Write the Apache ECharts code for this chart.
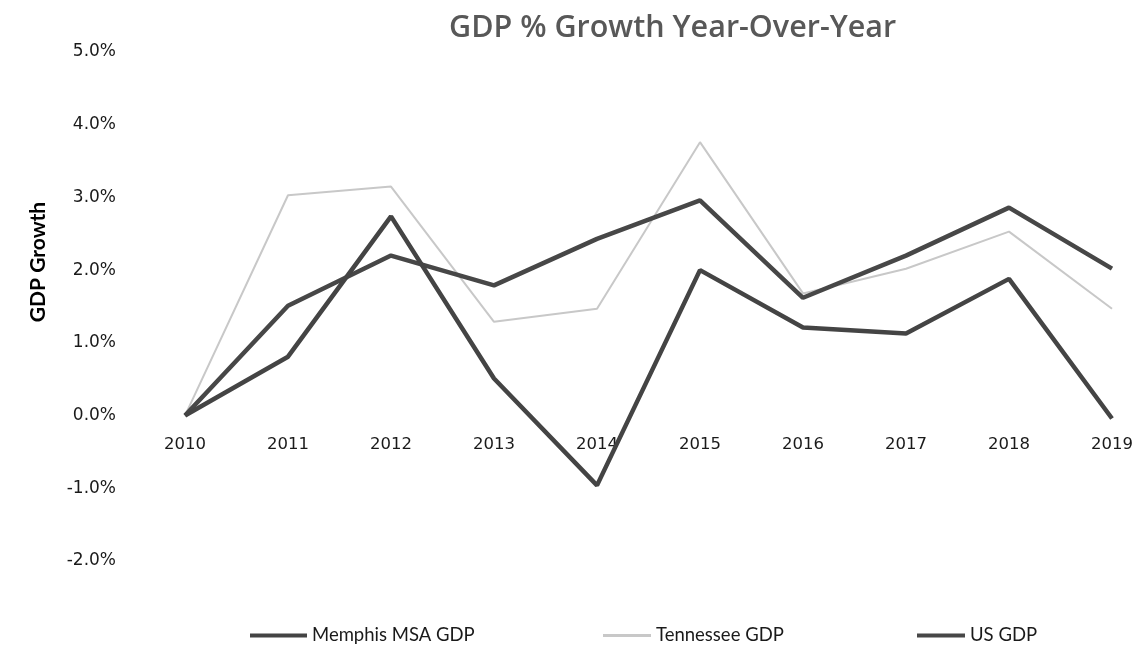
<!DOCTYPE html>
<html>
<head>
<meta charset="utf-8">
<title>GDP % Growth Year-Over-Year</title>
<script src="https://cdn.jsdelivr.net/npm/echarts@6/dist/echarts.min.js"></script>
<style>
  html, body { margin: 0; padding: 0; background: #ffffff; }
  #chart { width: 1136px; height: 648px; }
</style>
</head>
<body>
<div id="chart"></div>
<script>
// Year-over-year GDP growth, percent
const years = ['2010', '2011', '2012', '2013', '2014', '2015', '2016', '2017', '2018', '2019'];
const memphisMsaGdp = [0.0, 0.81, 2.74, 0.51, -0.96, 2.0, 1.21, 1.13, 1.88, -0.04];
const tennesseeGdp  = [0.0, 3.03, 3.15, 1.29, 1.47, 3.76, 1.68, 2.02, 2.53, 1.47];
const usGdp         = [0.0, 1.51, 2.2, 1.79, 2.43, 2.96, 1.62, 2.2, 2.86, 2.02];
const yTicks = { min: -2, max: 5, step: 1 };

const darkLine = '#474747';
const lightLine = '#c8c8c8';

const W = 1136, H = 648;
const grid = { left: 185, right: 24, top: 52, bottom: 87 };
// the category labels sit just below the 0% line, so shift the x axis up from the plot bottom
const plotHeight = H - grid.top - grid.bottom;
const zeroLift = plotHeight * (0 - yTicks.min) / (yTicks.max - yTicks.min);

const chart = echarts.init(document.getElementById('chart'), null, { renderer: 'canvas' });

const legendText = { fontFamily: 'Lato', fontSize: 18.5, color: '#1a1a1a' };

chart.setOption({
  backgroundColor: '#ffffff',
  animation: false,
  title: {
    text: 'GDP % Growth Year-Over-Year',
    left: 444,
    top: 8,
    textStyle: { fontFamily: 'Open Sans', fontWeight: 600, fontSize: 30.5, color: '#585858' }
  },
  legend: [
    { data: ['Memphis MSA GDP'], left: 245, top: 621, itemWidth: 57, itemHeight: 4, icon: 'rect', textStyle: legendText },
    { data: ['Tennessee GDP'], left: 598, top: 621, itemWidth: 48, itemHeight: 3, icon: 'rect', textStyle: legendText },
    { data: ['US GDP'], left: 912, top: 621, itemWidth: 48, itemHeight: 4, icon: 'rect', textStyle: legendText }
  ],
  grid: { left: grid.left, right: grid.right, top: grid.top, bottom: grid.bottom, containLabel: false },
  xAxis: {
    type: 'category',
    data: years,
    boundaryGap: false,
    offset: -zeroLift,
    axisLine: { show: false, onZero: false },
    axisTick: { show: false },
    splitLine: { show: false },
    axisLabel: { margin: 21, fontFamily: 'DejaVu Sans', fontSize: 16.5, color: '#1a1a1a' }
  },
  yAxis: {
    type: 'value',
    min: yTicks.min,
    max: yTicks.max,
    interval: yTicks.step,
    axisLine: { show: false },
    axisTick: { show: false },
    splitLine: { show: false },
    axisLabel: {
      margin: 69,
      fontFamily: 'DejaVu Sans',
      fontSize: 17,
      color: '#1a1a1a',
      formatter: v => v.toFixed(1) + '%'
    }
  },
  graphic: [
    {
      type: 'text',
      x: 28,
      y: 262,
      rotation: Math.PI / 2,
      style: {
        text: 'GDP Growth',
        font: 'bold 21px Lato',
        fill: '#000000',
        align: 'center',
        verticalAlign: 'top'
      }
    }
  ],
  series: [
    {
      name: 'Tennessee GDP',
      type: 'line',
      data: tennesseeGdp,
      symbol: 'none',
      z: 1,
      lineStyle: { color: lightLine, width: 2 },
      itemStyle: { color: lightLine }
    },
    {
      name: 'US GDP',
      type: 'line',
      data: usGdp,
      symbol: 'none',
      z: 2,
      lineStyle: { color: darkLine, width: 4.5 },
      itemStyle: { color: darkLine }
    },
    {
      name: 'Memphis MSA GDP',
      type: 'line',
      data: memphisMsaGdp,
      symbol: 'none',
      z: 3,
      lineStyle: { color: '#444444', width: 4.5 },
      itemStyle: { color: '#444444' }
    }
  ]
});
</script>
</body>
</html>
